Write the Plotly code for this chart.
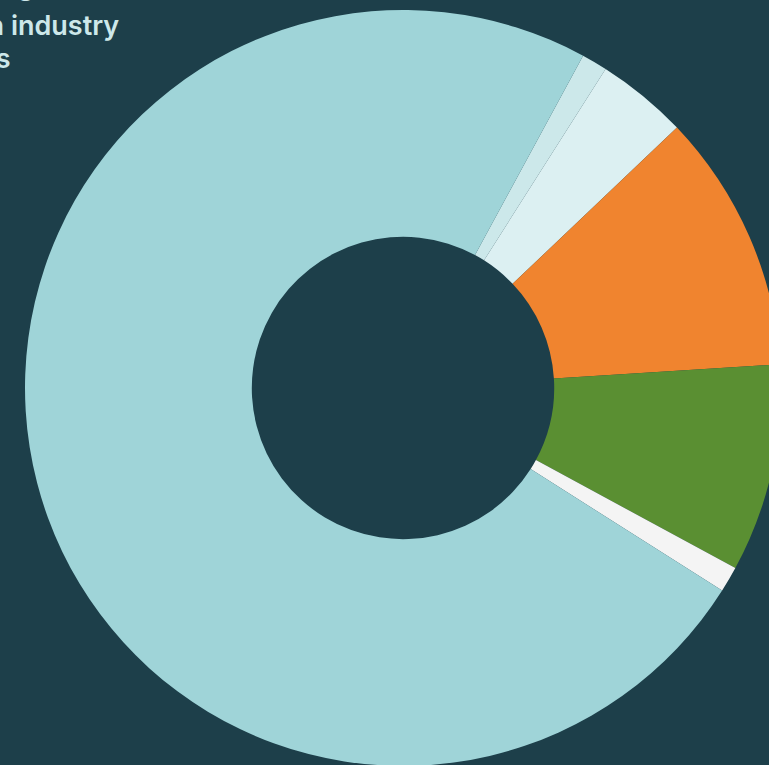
import plotly.graph_objects as go

# Data (share of total, %), listed clockwise starting at the thin light slice
labels = ["Segment A", "Segment B", "Segment C", "Segment D", "Segment E", "Segment F"]
values = [1.1, 3.9, 11.1, 8.9, 1.1, 73.9]
colors = ["#cce8ea", "#dcf0f2", "#f0842f", "#5a8f32", "#f4f4f4", "#9fd4d8"]

title_lines = ["Energy spending (%)", "Share of energy use in industry", "sub-sectors"]

BG = "#1d3f4a"
W, H = 806, 776
L, R, T, B = 25, 25, 10, 10
PW, PH = W - L - R, H - T - B


def px(x):
    return (x - L) / PW


def py(y):
    return 1 - (y - T) / PH


fig = go.Figure(
    go.Pie(
        labels=labels,
        values=values,
        marker=dict(colors=colors, line=dict(width=0)),
        hole=0.4,
        sort=False,
        direction="clockwise",
        rotation=28.45,
        textinfo="none",
        hoverinfo="label+percent",
        showlegend=False,
    )
)

line_right = [90, 121, 13]
line_mid = [-15, 25, 58]
for txt, xr, ym in zip(title_lines, line_right, line_mid):
    fig.add_annotation(
        text=txt,
        xref="paper",
        yref="paper",
        x=px(xr),
        y=py(ym),
        xanchor="right",
        yanchor="middle",
        showarrow=False,
        font=dict(family="Inter", size=27, color="#cde8ea", weight=600),
    )

fig.update_layout(
    width=W,
    height=H,
    margin=dict(l=L, r=R, t=T, b=B),
    paper_bgcolor=BG,
    plot_bgcolor=BG,
)

fig.write_html(
    "out.html",
    config={"displayModeBar": False},
    post_script=(
        "document.documentElement.style.overflow='hidden';"
        "document.body.style.overflow='hidden';"
        "document.body.style.margin='0';"
        "document.body.style.background='" + BG + "';"
    ),
)
